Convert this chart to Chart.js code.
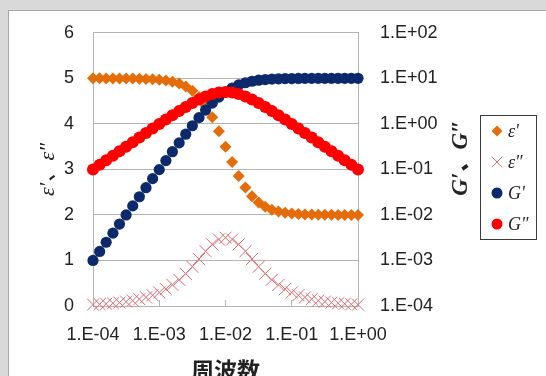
<!DOCTYPE html>
<html><head><meta charset="utf-8">
<script src="https://cdn.jsdelivr.net/npm/chart.js@4.4.1/dist/chart.umd.min.js"></script>
<style>html,body{margin:0;padding:0;background:#d9d9d9;}#wrap{width:546px;height:376px;position:relative;}</style>
</head><body><div id="wrap"><canvas id="c" width="546" height="376"></canvas></div>
<script>
const freq = [0.0001,0.000126,0.000158,0.000200,0.000251,0.000316,0.000398,0.000501,0.000631,0.000794,
  0.001,0.00126,0.00158,0.00200,0.00251,0.00316,0.00398,0.00501,0.00631,0.00794,
  0.01,0.0126,0.0158,0.0200,0.0251,0.0316,0.0398,0.0501,0.0631,0.0794,
  0.1,0.126,0.158,0.200,0.251,0.316,0.398,0.501,0.631,0.794,1];
const epsReal = [5.000,5.000,4.999,4.999,4.998,4.997,4.995,4.992,4.988,4.981,
  4.970,4.953,4.927,4.885,4.822,4.727,4.590,4.398,4.146,3.839,
  3.500,3.161,2.854,2.602,2.410,2.273,2.178,2.115,2.074,2.047,
  2.030,2.019,2.012,2.008,2.005,2.003,2.002,2.001,2.001,2.000,2.000];
const epsImag = [0.030,0.038,0.048,0.060,0.075,0.095,0.119,0.150,0.189,0.237,
  0.297,0.372,0.464,0.576,0.709,0.862,1.031,1.202,1.354,1.461,
  1.500,1.461,1.354,1.202,1.031,0.862,0.709,0.576,0.464,0.372,
  0.297,0.237,0.189,0.150,0.119,0.095,0.075,0.060,0.048,0.038,0.030];
const gReal = [0.00100,0.00158,0.00251,0.00398,0.00631,0.00999,0.0158,0.0251,0.0397,0.0627,
  0.0990,0.156,0.245,0.383,0.594,0.909,1.37,2.01,2.85,3.87,
  5.00,6.13,7.15,7.99,8.63,9.09,9.41,9.62,9.76,9.84,
  9.90,9.94,9.96,9.97,9.98,9.99,9.99,10.0,10.0,10.0,10.0];
const gImag = [0.100,0.126,0.158,0.200,0.251,0.316,0.397,0.500,0.628,0.789,
  0.990,1.24,1.55,1.92,2.36,2.87,3.44,4.01,4.51,4.87,
  5.00,4.87,4.51,4.01,3.44,2.87,2.36,1.92,1.55,1.24,
  0.990,0.789,0.628,0.500,0.397,0.316,0.251,0.200,0.158,0.126,0.100];
const xTicks = [0.0001,0.001,0.01,0.1,1];
const yTicks = [0,1,2,3,4,5,6];
const y2Ticks = [0.0001,0.001,0.01,0.1,1,10,100];
const seriesNames = ["ε′","ε″","G′","G″"];
const xTitle = "周波数";
const yTitle = "ε′、ε″";
const y2Title = "G′、G″";

function pts(ys){ return freq.map((f,i)=>({x:f,y:ys[i]})); }
function fmtE(v){ const e=Math.round(Math.log10(v)); return '1.E'+(e<0?'-':'+')+String(Math.abs(e)).padStart(2,'0'); }

const TXT = '#222222';
const GRID = '#b4b4b4';
const labelFont = {family:"'Liberation Sans', Arial, sans-serif", size:18, lineHeight:1.2};

const bgPlugin = {
  id:'bg',
  beforeDraw(chart){
    const ctx=chart.ctx;
    ctx.save();
    ctx.fillStyle='#d9d9d9'; ctx.fillRect(0,0,chart.width,chart.height);
    ctx.fillStyle='#ffffff'; ctx.fillRect(8.5,10.5,chart.width,chart.height);
    ctx.strokeStyle='#a6a6a6'; ctx.lineWidth=1;
    ctx.strokeRect(8.5,10.5,chart.width+10,chart.height+10);
    ctx.restore();
  }
};

function drawMarker(ctx, ds, x, y, r){
  const opts = {pointStyle: ds.pointStyle, radius: r, rotation:0, borderWidth: ds.pointBorderWidth};
  ctx.save();
  ctx.fillStyle = ds.pointBackgroundColor; ctx.strokeStyle = ds.pointBorderColor; ctx.lineWidth = ds.pointBorderWidth;
  if (Chart.helpers && Chart.helpers.drawPoint) { Chart.helpers.drawPoint(ctx, opts, x, y); }
  else { ctx.beginPath(); ctx.arc(x,y,r,0,Math.PI*2); ctx.fill(); }
  ctx.restore();
}

const extraPlugin = {
  id:'extra',
  afterDraw(chart){
    const ctx=chart.ctx;
    ctx.save();
    ctx.translate(461,158); ctx.rotate(-Math.PI/2);
    ctx.fillStyle=TXT; ctx.font="italic bold 23px 'Liberation Serif', 'Noto Sans CJK JP', serif";
    ctx.textAlign='center'; ctx.textBaseline='middle';
    ctx.fillText(y2Title,0,0);
    ctx.restore();
    ctx.save();
    ctx.strokeStyle='#3a3a3a'; ctx.lineWidth=1;
    ctx.strokeRect(480.5,115.5,56,124);
    const ys=[131,162,193,224];
    const rs=[5.5,7.5,5.5,5.5];
    chart.data.datasets.forEach((ds,i)=>{
      drawMarker(ctx, ds, 497, ys[i], rs[i]);
      ctx.fillStyle=TXT; ctx.font="italic 18px 'Liberation Serif', 'DejaVu Serif', serif";
      ctx.textAlign='left'; ctx.textBaseline='middle';
      ctx.fillText(ds.label, 508, ys[i]+1);
    });
    ctx.restore();
  }
};

new Chart(document.getElementById('c'), {
  type:'scatter',
  data:{ datasets:[
    {label:seriesNames[0], data:pts(epsReal), yAxisID:'y', pointStyle:'rectRot', pointRadius:6, pointBorderWidth:0,
     pointBackgroundColor:'#E46C0A', pointBorderColor:'#E46C0A', showLine:false, clip:false, order:4},
    {label:seriesNames[1], data:pts(epsImag), yAxisID:'y', pointStyle:'crossRot', pointRadius:8.5, pointBorderWidth:1,
     pointBackgroundColor:'#dd6a72', pointBorderColor:'#dd6a72', showLine:false, clip:false, order:3},
    {label:seriesNames[2], data:pts(gReal), yAxisID:'y2', pointStyle:'circle', pointRadius:5.6, pointBorderWidth:0,
     pointBackgroundColor:'#0c2a6b', pointBorderColor:'#0c2a6b', showLine:false, clip:false, order:2},
    {label:seriesNames[3], data:pts(gImag), yAxisID:'y2', pointStyle:'circle', pointRadius:6, pointBorderWidth:0,
     pointBackgroundColor:'#ff0000', pointBorderColor:'#ff0000', showLine:false, clip:false, order:1}
  ]},
  options:{
    responsive:false, animation:false, devicePixelRatio:1,
    layout:{padding:{left:0,right:0,top:32,bottom:0}},
    plugins:{legend:{display:false}, tooltip:{enabled:false}},
    scales:{
      x:{type:'logarithmic', position:'bottom', min:0.0001, max:1,
        afterBuildTicks(s){ s.ticks = xTicks.map(v=>({value:v})); },
        afterFit(s){ s.height = 70; },
        ticks:{callback:(v)=>fmtE(v), color:TXT, font:labelFont, padding:24, maxRotation:0, autoSkip:false},
        grid:{drawOnChartArea:false, drawTicks:true, tickLength:-6, color:GRID},
        border:{color:GRID},
        title:{display:true, text:xTitle, color:TXT, font:{family:"'Noto Sans CJK JP', sans-serif", size:23, weight:'bold', lineHeight:0.5}, padding:{top:0,bottom:0}}
      },
      y:{type:'linear', position:'left', min:0, max:6,
        afterBuildTicks(s){ s.ticks = yTicks.map(v=>({value:v})); },
        afterFit(s){ s.width = 93; },
        ticks:{color:TXT, font:labelFont, padding:19},
        grid:{drawTicks:false, color:GRID},
        border:{color:GRID},
        title:{display:true, text:yTitle, color:TXT, font:{family:"'Liberation Serif', 'Noto Sans CJK JP', serif", size:22, style:'italic', lineHeight:1.2}, padding:{top:35,bottom:0}}
      },
      y2:{type:'logarithmic', position:'right', min:0.0001, max:100,
        afterBuildTicks(s){ s.ticks = y2Ticks.map(v=>({value:v})); },
        afterFit(s){ s.width = 188; },
        ticks:{callback:(v)=>fmtE(v), color:TXT, font:labelFont, padding:22, autoSkip:false},
        grid:{drawOnChartArea:false, drawTicks:false, color:GRID},
        border:{color:GRID}
      }
    }
  },
  plugins:[bgPlugin, extraPlugin]
});
</script></body></html>
